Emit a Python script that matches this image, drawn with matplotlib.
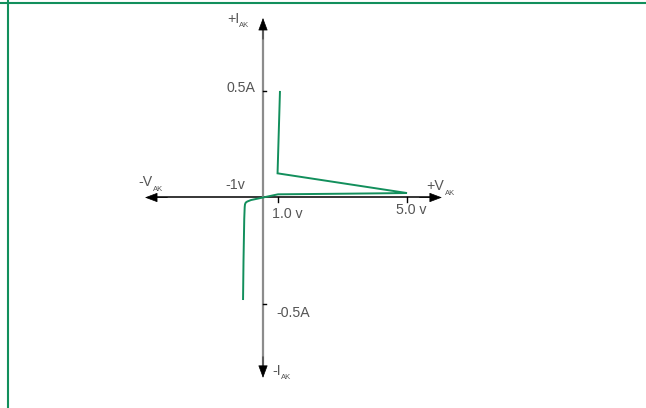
import matplotlib
matplotlib.use("Agg")
import matplotlib.pyplot as plt
from matplotlib.lines import Line2D

plt.rcParams['font.family'] = ['Liberation Sans Narrow', 'Liberation Sans', 'DejaVu Sans']

# --- data (schematic units: x in sketch volts, y in amps) ---
curve_v = [-1.33, -1.30, -1.25, -1.22, -1.20, -1.15, -1.05, -0.8, 0.0, 1.0, 5.5, 9.6, 0.97, 1.13]
curve_i = [-0.479, -0.300, -0.100, -0.045, -0.032, -0.024, -0.019, -0.012, 0.0, 0.015, 0.018, 0.021, 0.114, 0.498]

x_axis_ends = [-7.87, 11.93]
y_axis_ends = [-0.851, 0.847]

i_ticks = [0.5, -0.5]
i_tick_labels = ["0.5A", "-0.5A"]
v_ticks = [1.0, 9.6]
v_tick_labels = ["1.0 v", "5.0 v"]

GREEN = '#128f5c'
TXT = '#555555'

fig = plt.figure(figsize=(6.46, 4.08), dpi=100)
ax = fig.add_axes([0, 0, 1, 1])
ax.set_axis_off()
# pixel mapping: px = 263 + 15*x ; py = 197.5 - 212*I
ax.set_xlim(-263 / 15, (646 - 263) / 15)
ax.set_ylim((197.5 - 408) / 212, 197.5 / 212)

# border (top & left)
fig.add_artist(Line2D([0, 1], [1 - 2.5 / 408, 1 - 2.5 / 408], transform=fig.transFigure,
                      color=GREEN, lw=1.5))
fig.add_artist(Line2D([7.5 / 646, 7.5 / 646], [0, 1], transform=fig.transFigure,
                      color=GREEN, lw=1.5))

# axes lines
hl = 0.7  # arrow head length (x units)
vl = 0.05  # arrow head length (y units)
ax.plot([x_axis_ends[0] + hl, x_axis_ends[1] - hl], [0, 0], color='black', lw=1.1, zorder=2)
ax.plot([0, 0], [y_axis_ends[0] + vl, y_axis_ends[1] - vl], color='#8c8c8c', lw=1.6, zorder=2)

ap = dict(arrowstyle='-|>,head_length=0.8,head_width=0.3', color='black',
          lw=0.5, mutation_scale=10, shrinkA=0, shrinkB=0)
ax.annotate('', xy=(x_axis_ends[0], 0), xytext=(x_axis_ends[0] + 1.5, 0), arrowprops=ap)
ax.annotate('', xy=(x_axis_ends[1], 0), xytext=(x_axis_ends[1] - 1.5, 0), arrowprops=ap)
ax.annotate('', xy=(0, y_axis_ends[1]), xytext=(0, y_axis_ends[1] - 0.1), arrowprops=ap)
ax.annotate('', xy=(0, y_axis_ends[0]), xytext=(0, y_axis_ends[0] + 0.1), arrowprops=ap)

# ticks
for yv in i_ticks:
    ax.plot([0, 0.2], [yv, yv], color='black', lw=1.0, zorder=3)
for xv in v_ticks:
    ax.plot([xv, xv], [0, -0.019], color='black', lw=1.0, zorder=3)

# curve
ax.plot(curve_v, curve_i, color=GREEN, lw=1.4, zorder=4, solid_joinstyle='miter')

fs = 10.2
sfs = 5.5
ax.text(-0.53, 0.498, i_tick_labels[0], ha='right', va='baseline', fontsize=fs, color=TXT)
ax.text(0.87, -0.564, i_tick_labels[1], ha='left', va='baseline', fontsize=fs, color=TXT)
ax.text(0.6, -0.097, v_tick_labels[0], ha='left', va='baseline', fontsize=fs, color=TXT)
ax.text(8.87, -0.078, v_tick_labels[1], ha='left', va='baseline', fontsize=fs, color=TXT)
ax.text(-1.2, 0.040, "-1v", ha='right', va='baseline', fontsize=fs, color=TXT)

# axis titles with subscripts
ax.text(-2.4, 0.823, "+I", ha='left', va='baseline', fontsize=fs, color=TXT)
ax.text(-1.6, 0.802, "AK", ha='left', va='baseline', fontsize=sfs, color=TXT)
ax.text(0.6, -0.837, "-I", ha='left', va='baseline', fontsize=fs, color=TXT)
ax.text(1.2, -0.858, "AK", ha='left', va='baseline', fontsize=sfs, color=TXT)
ax.text(-8.33, 0.054, "-V", ha='left', va='baseline', fontsize=fs, color=TXT)
ax.text(-7.33, 0.031, "AK", ha='left', va='baseline', fontsize=sfs, color=TXT)
ax.text(10.87, 0.035, "+V", ha='left', va='baseline', fontsize=fs, color=TXT)
ax.text(12.13, 0.012, "AK", ha='left', va='baseline', fontsize=sfs, color=TXT)

fig.savefig("out.png", dpi=100)
